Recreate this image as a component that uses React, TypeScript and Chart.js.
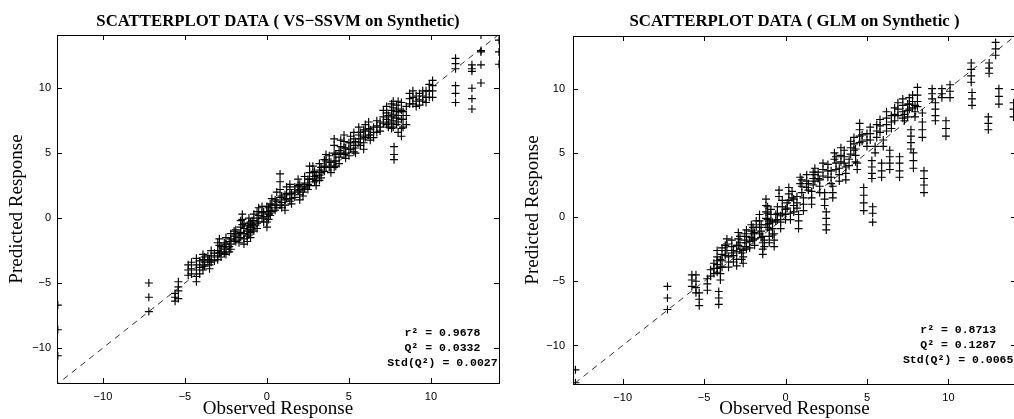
import React, { useEffect, useRef } from "react";
import { Chart, registerables } from "chart.js";
Chart.register(...registerables);

// ---------- data ----------
const xTickValues = [-10, -5, 0, 5, 10];
const yTickValues = [-10, -5, 0, 5, 10];
const identityLine = [-14, 15];

const vsObserved = [
  -12.75, -7.2, -5.6, -5.4, -4.8, -4.3, -4.1, -3.8, -3.5, -3.2, -3.0, -2.8, -2.5, -2.3, -2.0, -1.7,
  -1.5, -1.4, -1.2, -1.0, -0.8, -0.5, -0.2, 0.0, 0.2, 0.5, 0.8, 1.1, 1.4, 1.7, 2.0, 2.3, 2.6, 2.9,
  3.2, 3.5, 3.8, 4.1, 4.4, 4.7, 5.0, 5.3, 5.6, 5.9, 6.2, 6.5, 6.9, 7.3, 7.6, 7.75, 7.9, 8.2, 8.5,
  8.9, 9.3, 9.7, 10.1, 11.5, 12.5, 13.05, 14.15,
  -4.6, -3.9, -3.6, -3.4, -2.9, -2.6, -2.2, -1.9, -1.6, -1.1, -0.9, -0.6, -0.3, 0.1, 0.3, 0.6, 0.9,
  1.2, 1.5, 1.9, 2.2, 2.5, 2.8, 3.0, 3.3, 3.6, 3.9, 4.2, 4.5, 4.8, 5.1, 5.4, 5.7, 6.0, 6.3, 6.7,
  7.1, 7.4, 7.7, 8.0, 8.3, 8.7, 9.1, 9.5, 9.9,
];
const vsPredicted = [
  [-6.7, -8.6, -10.6], [-5.0, -6.1, -7.2], [-5.8, -6.1, -6.4], [-4.9, -5.3, -5.6, -6.2],
  [-3.6, -4.0, -4.4], [-3.1, -3.6, -4.0, -4.5, -4.9], [-3.3, -3.8, -4.3], [-3.0, -3.4, -3.7],
  [-3.2, -3.6, -3.9], [-2.7, -3.0, -3.3], [-1.9, -2.5, -2.9, -3.2], [-2.2, -2.6, -3.0],
  [-1.5, -2.0, -2.4, -2.8], [-1.8, -2.2, -2.6], [-1.0, -1.4, -1.7], [-1.2, -1.5, -1.9],
  [0.3, -0.1, -0.5], [-0.4, -0.8, -1.2, -1.6, -2.0], [-0.6, -1.0, -1.4, -1.8], [-0.3, -0.7, -1.1, -1.5],
  [0.3, -0.2, -0.6, -1.0], [0.8, 0.2, -0.3], [0.5, 0.1, -0.3], [0.9, 0.5, 0.1, -0.3, -0.7],
  [1.1, 0.6, 0.2], [1.4, 1.0, 0.6], [3.4, 2.8, 2.2, 1.6, 1.0], [1.8, 1.4, 1.0, 0.6],
  [2.6, 2.2, 1.8, 1.3], [2.4, 2.0, 1.6], [2.6, 2.2, 1.8, 1.4], [3.2, 2.7, 2.3],
  [4.0, 3.5, 3.0, 2.5], [3.6, 3.2, 2.8], [4.2, 3.7, 3.3, 2.9], [4.5, 4.0, 3.6],
  [4.8, 4.3, 3.9], [6.1, 5.6, 5.0, 4.4, 3.9], [5.2, 4.7, 4.2], [6.4, 5.9, 5.4, 4.9],
  [5.8, 5.3, 4.8], [6.6, 6.1, 5.6, 5.1], [7.0, 6.4, 5.8], [6.8, 6.3, 5.8, 5.3],
  [7.4, 6.9, 6.4], [7.0, 6.6, 6.2], [7.4, 7.0, 6.7], [8.6, 8.1, 7.6, 7.2],
  [8.8, 8.3, 7.8, 7.3, 6.9], [5.5, 4.9, 4.5], [8.7, 8.2, 7.7, 7.2], [8.9, 8.3, 7.6, 6.9, 6.3],
  [8.6, 7.9, 7.2], [9.8, 9.3, 8.8], [9.6, 9.1, 8.7], [9.8, 9.3, 8.9], [10.6, 10.2, 9.8, 9.3],
  [12.3, 11.9, 11.5, 10.2, 9.6, 8.9], [11.8, 11.5, 11.3, 10.0, 9.2, 8.4],
  [14.1, 12.9, 12.8, 11.8, 10.4], [13.7, 12.8, 11.85],
  [-3.4, -3.9, -4.3], [-2.8, -3.2, -3.6, -4.0], [-2.9, -3.3], [-2.5, -2.9, -3.4], [-1.6, -2.1, -2.7],
  [-1.9, -2.3, -2.7], [-1.2, -1.6, -2.0, -2.4], [-0.9, -1.3, -1.8], [-0.2, -0.7, -1.1, -1.5],
  [0.0, -0.4, -0.9, -1.3], [-0.2, -0.5, -0.9], [0.5, 0.0, -0.4, -0.8], [0.9, 0.4, 0.0],
  [0.8, 0.3, -0.1], [1.5, 1.0, 0.5], [2.0, 1.3, 0.8], [1.7, 1.2, 0.8],
  [2.4, 1.9, 1.5], [1.9, 1.5, 1.1], [3.0, 2.5, 2.1], [2.4, 2.0, 1.7], [3.0, 2.6, 2.2],
  [4.0, 3.5, 3.0], [3.3, 2.9, 2.5], [3.9, 3.5, 3.1], [4.9, 4.4, 3.9], [4.3, 3.9, 3.5],
  [4.9, 4.4, 4.0], [6.0, 5.5, 5.0], [5.4, 5.0, 4.6], [6.3, 5.8, 5.3], [5.9, 5.4, 5.0],
  [6.6, 6.1, 5.6], [7.2, 6.7, 6.2], [6.8, 6.4, 6.0], [7.5, 7.1, 6.6],
  [8.3, 7.8, 7.3], [7.9, 7.4, 7.0], [9.0, 8.5, 8.0, 7.5, 7.0], [9.0, 8.4, 7.9, 7.4, 6.6],
  [8.2, 7.6, 7.0], [9.6, 9.2, 8.8], [9.4, 9.0, 8.6], [9.8, 9.4, 9.0], [10.3, 9.8, 9.3],
];

const glmObserved = [
  -12.9, -7.25, -5.75, -5.5, -5.3, -4.8, -4.4, -4.2, -4.1, -4.0, -3.7, -3.5, -3.3, -3.0, -2.8, -2.6,
  -2.4, -2.1, -1.9, -1.6, -1.4, -1.2, -1.0, -0.9, -0.7, -0.5, -0.4, -0.2, 0.0, 0.2, 0.5, 0.8, 1.0,
  1.3, 1.6, 1.8, 2.1, 2.5, 2.6, 2.9, 3.1, 3.4, 3.7, 4.0, 4.3, 4.55, 4.8, 5.0, 5.3, 5.35, 5.6, 5.9,
  6.2, 6.4, 6.7, 7.0, 7.2, 7.5, 7.7, 7.8, 7.85, 8.1, 8.4, 8.5, 9.0, 9.2, 9.6, 9.85, 10.1, 11.4,
  11.45, 12.45, 12.5, 12.9, 13.1, 14.0,
  -4.6, -3.9, -3.6, -3.2, -2.9, -2.7, -2.5, -2.2, -2.0, -1.8, -1.5, -1.3, -1.1, -0.8, -0.6, -0.3,
  0.1, 0.3, 0.4, 0.7, 0.9, 1.1, 1.4, 1.7, 2.0, 2.3, 2.4, 2.8, 3.0, 3.3, 3.6, 3.9, 4.2, 4.4, 4.7,
  5.2, 5.5, 5.8, 6.0, 6.5, 6.9, 7.3, 7.6, 7.95,
];
const glmPredicted = [
  [-11.9, -12.9], [-5.4, -6.3, -7.2], [-4.5, -4.9, -5.4], [-4.5, -5.0, -5.5, -5.9],
  [-5.9, -6.4, -6.9], [-4.8, -5.2, -5.7], [-3.6, -4.0, -4.4], [-2.6, -3.1, -3.4, -3.7, -4.0, -4.3],
  [-5.8, -6.3, -6.8], [-3.3, -3.9, -4.4, -4.9], [-2.2, -2.6, -3.0], [-3.1, -3.5, -3.9],
  [-1.8, -2.3, -2.8], [-2.2, -2.7, -3.3, -3.8], [-1.5, -2.0, -2.5], [-2.6, -3.1, -3.6],
  [-1.0, -1.5, -2.0, -2.5], [-0.6, -1.1, -1.6], [-1.2, -1.7, -2.2], [0.2, -0.3, -0.8, -1.3],
  [-1.5, -2.0, -2.5, -2.9], [1.4, 0.9, 0.4, -0.1, -0.6], [-0.5, -1.0, -1.5, -2.0], [0.6, 0.2, -0.3],
  [-1.3, -1.8, -2.3], [0.8, 0.3, -0.2], [2.1, 1.6], [1.3, 0.8, 0.3], [0.6, 0.2, -0.2],
  [2.3, 1.8, 1.3], [1.4, 0.9, 0.4], [0.2, -0.3, -0.9], [2.9, 2.4, 1.9],
  [3.3, 2.8, 2.3], [2.0, 1.5, 1.0], [3.8, 3.3, 2.8], [2.9, 2.4, 1.9], [0.4, -0.1, -0.6, -1.0],
  [4.1, 3.6, 3.1], [2.4, 1.9, 1.5], [4.7, 4.2, 3.7], [5.4, 4.8, 4.3], [3.9, 3.4, 2.9],
  [5.9, 5.4, 4.9], [5.3, 4.8, 4.3], [7.3, 6.8, 6.3, 5.8], [2.3, 1.7, 1.1, 0.5], [6.5, 6.0, 5.5],
  [4.4, 3.9, 3.4, 3.0], [0.8, 0.3, -0.4], [7.2, 6.7, 6.2], [4.2, 3.6, 3.1],
  [8.2, 7.7, 7.2, 6.7], [5.2, 4.7, 4.2, 3.7], [8.5, 8.0, 7.5], [4.7, 4.2, 3.6, 3.1],
  [9.2, 8.7, 8.2, 7.7], [8.8, 8.3, 7.8], [6.8, 6.3, 5.8, 5.3], [9.5, 9.0, 8.5], [5.0, 4.4, 3.8],
  [10.1, 9.5, 9.0, 8.6], [8.1, 7.4, 6.8, 6.2], [3.6, 3.0, 2.5, 1.9], [10.0, 9.6, 9.2],
  [8.9, 8.4, 7.9, 7.5], [10.0, 9.6, 9.3], [7.5, 6.9, 6.3], [10.3, 9.8, 9.3], [12.0, 11.5, 11.0, 10.5],
  [9.7, 9.2, 8.7], [7.8, 7.3, 6.8], [12.0, 11.6, 11.2], [13.6, 13.1, 12.6], [10.0, 9.4, 8.8],
  [8.9, 8.4, 7.8],
  [-4.1, -4.6], [-2.4, -2.9, -3.4, -3.9], [-1.7, -2.1, -2.6], [-2.6, -3.0, -3.5], [-1.2, -1.7, -2.2],
  [-2.8, -3.3], [-1.3, -1.8, -2.3], [-1.9, -2.4], [-0.8, -1.3, -1.8], [-0.3, -0.8],
  [-0.6, -1.1, -1.6], [-1.8, -2.3], [0.8, 0.3, -0.2, -0.8], [-0.4, -0.9, -1.4], [0.2, -0.3],
  [0.1, -0.4, -0.9], [1.1, 0.7], [0.3, -0.2], [2.0, 1.5], [1.6, 1.1, 0.7], [3.1, 2.6],
  [1.5, 1.0, 0.5], [2.6, 2.1], [3.5, 3.0, 2.5], [3.5, 3.0], [4.2, 3.7, 3.2], [1.9, 1.4, 0.9],
  [3.6, 3.1, 2.6], [5.0, 4.5], [3.8, 3.3, 2.8], [5.2, 4.7, 4.2], [4.5, 4.0], [6.2, 5.7, 5.2],
  [4.2, 3.7], [6.4, 5.9], [7.0, 6.5, 6.0], [5.5, 5.0], [7.6, 7.1, 6.6], [6.0, 5.5],
  [7.9, 7.4, 6.9], [8.9, 8.4, 7.9], [8.0, 7.5], [9.3, 8.8, 8.4], [8.7, 8.2, 7.8],
];

const vsStats = ["0.9678", "0.0332", "0.0027"];
const glmStats = ["0.8713", "0.1287", "0.0065"];

// ---------- panels ----------
type PanelCfg = {
  title: string;
  observed: number[];
  predicted: number[][];
  stats: string[];
  left: number;
  width: number;
  pad: { top: number; right: number; bottom: number; left: number };
  yAxisWidth: number;
  xAxisHeight: number;
  xMin: number;
  xMax: number;
  yMin: number;
  yMax: number;
  yTitleX: number;
  yTickPad: number;
  annotX: number;
  annotY: number;
};

const HEIGHT = 419;
const tickFont = { family: "'Liberation Sans', Arial, sans-serif", size: 11 };
const minusFmt = (v: number | string) => String(v).replace("-", "\u2212");

const panels: PanelCfg[] = [
  {
    title: "SCATTERPLOT DATA ( VS\u2212SSVM on Synthetic)",
    observed: vsObserved,
    predicted: vsPredicted,
    stats: vsStats,
    left: 0,
    width: 507,
    pad: { top: 35, right: 8, bottom: 0, left: 0 },
    yAxisWidth: 57,
    xAxisHeight: 36,
    xMin: -12.8,
    xMax: 14.15,
    yMin: -12.7,
    yMax: 14.1,
    yTitleX: 17.5,
    yTickPad: 6,
    annotX: 10.7,
    annotY: -10,
  },
  {
    title: "SCATTERPLOT DATA ( GLM on Synthetic )",
    observed: glmObserved,
    predicted: glmPredicted,
    stats: glmStats,
    left: 507,
    width: 515,
    pad: { top: 36, right: 6, bottom: 0, left: 0 },
    yAxisWidth: 66,
    xAxisHeight: 35,
    xMin: -13.05,
    xMax: 14.15,
    yMin: -13.0,
    yMax: 14.1,
    yTitleX: 26.5,
    yTickPad: 8,
    annotX: 10.6,
    annotY: -10,
  },
];

function Panel({ cfg }: { cfg: PanelCfg }) {
  const ref = useRef<HTMLCanvasElement | null>(null);
  useEffect(() => {
    if (!ref.current) return;
    const points = cfg.observed.flatMap((x, i) => cfg.predicted[i].map((y) => ({ x, y })));
    const diag = identityLine.map((v) => ({ x: v, y: v }));

    const framePlugin = {
      id: "frame",
      afterDatasetsDraw(chart: any) {
        const { ctx, chartArea: a, scales } = chart;
        const xs = scales.x;
        const ys = scales.y;
        ctx.save();
        ctx.strokeStyle = "#000";
        ctx.lineWidth = 1;
        ctx.strokeRect(Math.round(a.left) + 0.5, Math.round(a.top) + 0.5, Math.round(a.right - a.left), Math.round(a.bottom - a.top));
        const tl = 5;
        ctx.beginPath();
        for (const v of xTickValues) {
          const px = Math.round(xs.getPixelForValue(v)) + 0.5;
          ctx.moveTo(px, a.bottom);
          ctx.lineTo(px, a.bottom - tl);
          ctx.moveTo(px, a.top);
          ctx.lineTo(px, a.top + tl);
        }
        for (const v of yTickValues) {
          const py = Math.round(ys.getPixelForValue(v)) + 0.5;
          ctx.moveTo(a.left, py);
          ctx.lineTo(a.left + tl, py);
          ctx.moveTo(a.right, py);
          ctx.lineTo(a.right - tl, py);
        }
        ctx.stroke();

        const cx = (a.left + a.right) / 2;
        const cy = (a.top + a.bottom) / 2;
        ctx.fillStyle = "#000";
        ctx.font = "bold 16.8px 'Liberation Serif', 'Times New Roman', serif";
        ctx.textAlign = "center";
        ctx.textBaseline = "alphabetic";
        ctx.fillText(cfg.title, cx, 26);
        ctx.font = "19px 'Liberation Serif', 'Times New Roman', serif";
        ctx.fillText("Observed Response", cx, 414);
        ctx.save();
        ctx.translate(cfg.yTitleX, cy);
        ctx.rotate(-Math.PI / 2);
        ctx.textBaseline = "middle";
        ctx.fillText("Predicted Response", 0, 0);
        ctx.restore();
        ctx.font = "bold 11.5px 'Liberation Mono', 'Courier New', monospace";
        ctx.textAlign = "center";
        ctx.textBaseline = "middle";
        const ax = xs.getPixelForValue(cfg.annotX);
        const ay = ys.getPixelForValue(cfg.annotY);
        const lines = ["r\u00B2 = " + cfg.stats[0], "Q\u00B2 = " + cfg.stats[1], "Std(Q\u00B2) = " + cfg.stats[2]];
        lines.forEach((t, i) => ctx.fillText(t, ax, ay + (i - 1) * 15));
        ctx.restore();
      },
    };

    const chart = new Chart(ref.current, {
      type: "scatter",
      data: {
        datasets: [
          {
            data: points,
            pointStyle: "cross",
            pointRadius: 4,
            pointHoverRadius: 4,
            borderColor: "#000",
            backgroundColor: "#000",
            borderWidth: 1.15,
            showLine: false,
          },
          {
            type: "line",
            data: diag,
            borderColor: "#000",
            borderWidth: 0.8,
            borderDash: [6, 5],
            pointRadius: 0,
            fill: false,
          } as any,
        ],
      },
      options: {
        animation: false,
        responsive: false,
        events: [],
        layout: { padding: cfg.pad },
        plugins: { legend: { display: false }, tooltip: { enabled: false } },
        scales: {
          x: {
            type: "linear",
            min: cfg.xMin,
            max: cfg.xMax,
            grid: { display: false, drawTicks: false },
            border: { display: false },
            ticks: { padding: 7, font: tickFont, color: "#000", callback: (v: any) => minusFmt(v) },
            afterBuildTicks: (s: any) => {
              s.ticks = xTickValues.map((v) => ({ value: v }));
            },
            afterFit: (s: any) => {
              s.height = cfg.xAxisHeight;
            },
          },
          y: {
            type: "linear",
            min: cfg.yMin,
            max: cfg.yMax,
            grid: { display: false, drawTicks: false },
            border: { display: false },
            ticks: { padding: cfg.yTickPad, font: tickFont, color: "#000", callback: (v: any) => minusFmt(v) },
            afterBuildTicks: (s: any) => {
              s.ticks = yTickValues.map((v) => ({ value: v }));
            },
            afterFit: (s: any) => {
              s.width = cfg.yAxisWidth;
            },
          },
        },
      },
      plugins: [framePlugin],
    } as any);
    return () => chart.destroy();
  }, [cfg]);

  return (
    <canvas
      ref={ref}
      width={cfg.width}
      height={HEIGHT}
      style={{ position: "absolute", left: cfg.left, top: 0, width: cfg.width, height: HEIGHT }}
    />
  );
}

export default function App() {
  return (
    <div
      style={{
        position: "fixed",
        left: 0,
        top: 0,
        width: 1014,
        height: HEIGHT,
        overflow: "hidden",
        background: "#fff",
      }}
    >
      {panels.map((p, i) => (
        <Panel key={i} cfg={p} />
      ))}
    </div>
  );
}
